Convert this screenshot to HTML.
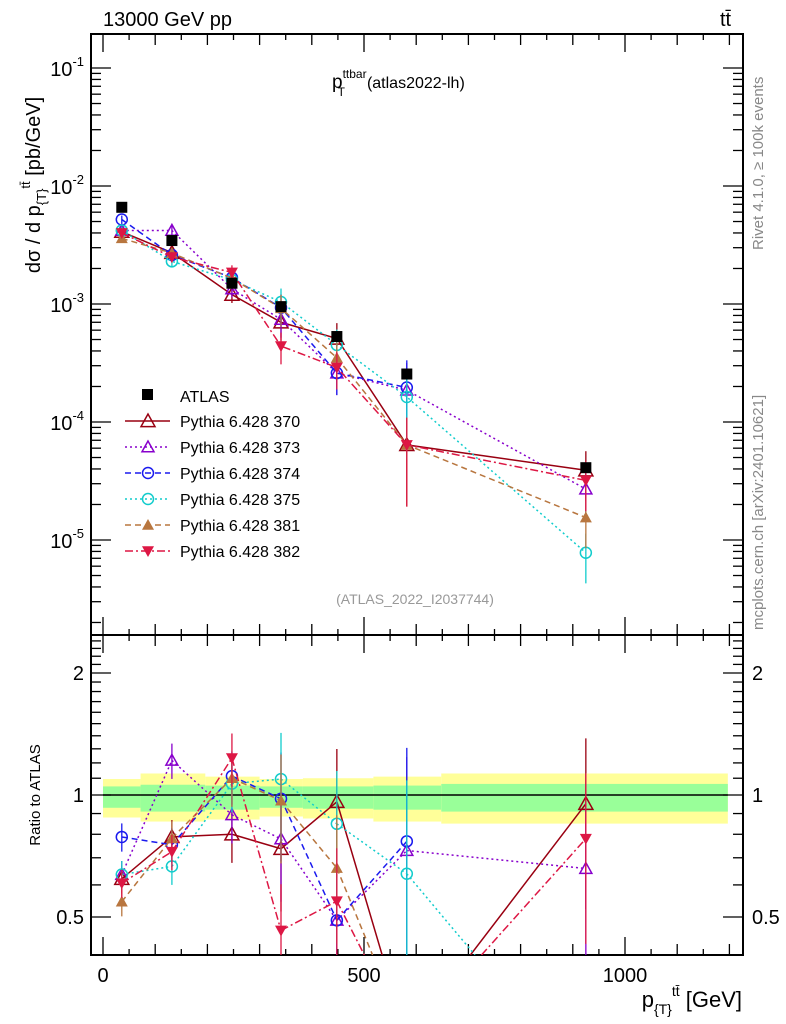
<!DOCTYPE html>
<html><head><meta charset="utf-8"><style>
html,body{margin:0;padding:0;background:#fff;width:786px;height:1024px;overflow:hidden;}
svg{display:block;font-family:"Liberation Sans",sans-serif;}
</style></head><body>
<svg id="plot" width="786" height="1024" viewBox="0 0 786 1024" xmlns="http://www.w3.org/2000/svg" overflow="hidden">
<text x="103" y="26" font-size="20">13000 GeV pp</text>
<text x="720" y="26" font-size="20">tt̄</text>
<text x="332" y="88" font-size="19">p<tspan font-size="12" dy="-10">ttbar</tspan><tspan font-size="12" dx="-29" dy="18">T</tspan><tspan font-size="16" dx="22" dy="-8">(atlas2022-lh)</tspan></text>
<text transform="translate(40,185) rotate(-90)" text-anchor="middle" font-size="20">dσ / d p<tspan font-size="13" dy="6">{T}</tspan><tspan font-size="13" dy="-16">tt̄</tspan><tspan dy="10"> [pb/GeV]</tspan></text>
<text transform="translate(763,250) rotate(-90)" font-size="15" fill="#888">Rivet 4.1.0, ≥ 100k events</text>
<text transform="translate(763,630) rotate(-90)" font-size="15" fill="#888">mcplots.cern.ch [arXiv:2401.10621]</text>
<text x="415" y="604" font-size="14" fill="#999" text-anchor="middle">(ATLAS_2022_I2037744)</text>
<text transform="translate(40,795) rotate(-90)" text-anchor="middle" font-size="15">Ratio to ATLAS</text>
<text x="742" y="1007" text-anchor="end" font-size="22">p<tspan font-size="14" dy="7">{T}</tspan><tspan font-size="14" dy="-18">tt̄</tspan><tspan dy="11"> [GeV]</tspan></text>
<g id="g"></g>
</svg>
<script>
const xVals=[36,132,247,341,448,582,925];
const binEdges=[0,72,196,300,383,518,648,1197];
const bandYellowHi=[1.095,1.13,1.11,1.095,1.10,1.11,1.13];
const bandYellowLo=[0.88,0.86,0.87,0.885,0.875,0.86,0.85];
const bandGreenHi=[1.05,1.06,1.055,1.05,1.05,1.055,1.065];
const bandGreenLo=[0.93,0.91,0.92,0.93,0.925,0.92,0.91];
const atlas=[6.6e-3,3.45e-3,1.5e-3,9.5e-4,5.3e-4,2.55e-4,4.1e-5];
const s370=[4.1e-3,2.72e-3,1.2e-3,7.0e-4,5.1e-4,6.4e-5,3.9e-5];
const s373=[4.2e-3,4.2e-3,1.34e-3,7.4e-4,2.6e-4,1.86e-4,2.7e-5];
const s374=[5.2e-3,2.6e-3,1.67e-3,9.3e-4,2.6e-4,1.96e-4,null];
const s375=[4.2e-3,2.3e-3,1.6e-3,1.04e-3,4.5e-4,1.63e-4,7.8e-6];
const s381=[3.6e-3,2.7e-3,1.65e-3,9.2e-4,3.5e-4,6.4e-5,1.55e-5];
const s382=[4.0e-3,2.5e-3,1.85e-3,4.4e-4,2.9e-4,6.4e-5,3.2e-5];
const relErr=[0.08,0.1,0.15,0.3,0.35,0.7,0.45];
const seriesNames=["Pythia 6.428 370","Pythia 6.428 373","Pythia 6.428 374","Pythia 6.428 375","Pythia 6.428 381","Pythia 6.428 382"];
const xTicksMajor=[0,500,1000];
const yDecades=[-1,-2,-3,-4,-5];
const rTicks=[2,1,0.5];

const NS="http://www.w3.org/2000/svg";
const g=document.getElementById('g');
const L=91,R=743,T=34,M=635,B=955;
const xs=v=>103+v*0.522;
const ym=v=>68+(-1-Math.log10(v))*118;
const yr=v=>795-Math.log2(v)*122;
const clampM=y=>Math.min(Math.max(y,T),M);
const clampR=y=>Math.min(Math.max(y,M),B);
function mk(tag,at,parent){const e=document.createElementNS(NS,tag);for(const k in at)e.setAttribute(k,at[k]);(parent||g).appendChild(e);return e;}
// clip a segment to y range [y0,y1]
function clipSeg(p,q,y0,y1){
 let [x1,ya]=p,[x2,yb]=q;
 const interp=(yy)=>x1+(x2-x1)*(yy-ya)/(yb-ya);
 if((ya<y0&&yb<y0)||(ya>y1&&yb>y1))return null;
 let a=[x1,ya],b=[x2,yb];
 if(ya<y0)a=[interp(y0),y0];if(ya>y1)a=[interp(y1),y1];
 if(yb<y0)b=[interp(y0),y0];if(yb>y1)b=[interp(y1),y1];
 return [a,b];
}

const bands=mk('g',{});


for(let i=0;i<binEdges.length-1;i++){
 const x1=xs(binEdges[i]),x2=xs(binEdges[i+1]);
 const ry=mk('rect',{x:x1,y:yr(bandYellowHi[i]),width:x2-x1,height:yr(bandYellowLo[i])-yr(bandYellowHi[i]),fill:'#ffff99'},bands);
 
 
 const rg=mk('rect',{x:x1,y:yr(bandGreenHi[i]),width:x2-x1,height:yr(bandGreenLo[i])-yr(bandGreenHi[i]),fill:'#99ff99'},bands);
 
 
}
const one=mk('line',{x1:xs(0),x2:xs(1197),y1:yr(1),y2:yr(1),stroke:'#000','stroke-width':1.5});



const f1=mk('rect',{x:L,y:T,width:R-L,height:M-T,fill:'none',stroke:'#000','stroke-width':2});


const f2=mk('rect',{x:L,y:M,width:R-L,height:B-M,fill:'none',stroke:'#000','stroke-width':2});



for(let v=0;v<=1200;v+=50){
 const x=xs(v);
 const ll=(v%100===0)?(v%500===0?18:11):6;
 [[T,1],[M,1],[M,-1],[B,-1]].forEach(([y,d])=>mk('line',{x1:x,x2:x,y1:y,y2:y+d*ll,stroke:'#000','stroke-width':1.3}));
}
xTicksMajor.forEach(v=>{const t=mk('text',{x:xs(v),y:982,'font-size':20,'text-anchor':'middle'});t.textContent=v;
 
 });

for(let d=-6;d<=-1;d++){for(let m=1;m<10;m++){const v=m*Math.pow(10,d);const y=ym(v);if(y<T||y>M)continue;
 const ll=m===1?20:10;
 mk('line',{x1:L,x2:L+ll,y1:y,y2:y,stroke:'#000','stroke-width':1.3});
 mk('line',{x1:R,x2:R-ll,y1:y,y2:y,stroke:'#000','stroke-width':1.3});}}
yDecades.forEach(d=>{const t=mk('text',{x:84,y:ym(Math.pow(10,d))+8,'font-size':20,'text-anchor':'end'});
 t.innerHTML='10<tspan font-size="13" dy="-10">'+d+'</tspan>';
 
 });

for(let v=0.4;v<=2.5;v+=0.1){const y=yr(v);if(y<M||y>B)continue;
 const maj=Math.abs(v-1)<1e-6||Math.abs(v-2)<1e-6||Math.abs(v-0.5)<1e-6;const ll=maj?20:10;
 mk('line',{x1:L,x2:L+ll,y1:y,y2:y,stroke:'#000','stroke-width':1.3});
 mk('line',{x1:R,x2:R-ll,y1:y,y2:y,stroke:'#000','stroke-width':1.3});}
rTicks.forEach(v=>{
 const t=mk('text',{x:84,y:yr(v)+7,'font-size':20,'text-anchor':'end'});t.textContent=v;
 
 
 const t2=mk('text',{x:752,y:yr(v)+7,'font-size':20});t2.textContent=v;
 
 });

function marker(type,x,y,color,size,parent){
 const s=size;
 if(type==='square')return mk('rect',{x:x-s,y:y-s,width:2*s,height:2*s,fill:'#000'},parent);
 if(type==='circle')return mk('circle',{cx:x,cy:y,r:s,fill:'none',stroke:color,'stroke-width':1.5},parent);
 if(type==='tri')return mk('polygon',{points:`${x},${y-s} ${x-s},${y+s*0.8} ${x+s},${y+s*0.8}`,fill:'none',stroke:color,'stroke-width':1.5},parent);
 if(type==='ftri')return mk('polygon',{points:`${x},${y-s} ${x-s},${y+s*0.8} ${x+s},${y+s*0.8}`,fill:color},parent);
 if(type==='dtri')return mk('polygon',{points:`${x},${y+s} ${x-s},${y-s*0.8} ${x+s},${y-s*0.8}`,fill:color},parent);
}
const defs=[
 {d:s370,c:'#990011',m:'tri',sz:7,dash:'',name:'series-370'},
 {d:s373,c:'#8800cc',m:'tri',sz:6,dash:'2,3',name:'series-373'},
 {d:s374,c:'#1a1aee',m:'circle',sz:5.5,dash:'6,4',name:'series-374'},
 {d:s375,c:'#11cccc',m:'circle',sz:5.5,dash:'2,3',name:'series-375'},
 {d:s381,c:'#b8763f',m:'ftri',sz:6,dash:'6,4',name:'series-381'},
 {d:s382,c:'#dd1744',m:'dtri',sz:6,dash:'8,3,2,3',name:'series-382'}];

const clipM=mk('clipPath',{id:'cm'});mk('rect',{x:L,y:T,width:R-L,height:M-T},clipM);
const clipR=mk('clipPath',{id:'cr'});mk('rect',{x:L,y:M,width:R-L,height:B-M},clipR);

defs.forEach(s=>{
 const gm=mk('g',{'clip-path':'url(#cm)'});
 
 
 const gr=mk('g',{'clip-path':'url(#cr)'});
 
 
 let pm=[],pr=[];
 s.d.forEach((v,i)=>{if(v==null)return;pm.push([xs(xVals[i]),ym(v)]);pr.push([xs(xVals[i]),yr(v/atlas[i])]);});
 const st={fill:'none',stroke:s.c,'stroke-width':1.5};if(s.dash)st['stroke-dasharray']=s.dash;
 mk('polyline',Object.assign({points:pm.map(p=>p.join(',')).join(' ')},st),gm);
 let dstr='';
 for(let k=0;k<pr.length-1;k++){const c=clipSeg(pr[k],pr[k+1],M,B);if(c)dstr+=`M${c[0][0]},${c[0][1]}L${c[1][0]},${c[1][1]}`;}
 if(dstr)mk('path',Object.assign({d:dstr},st),gr);
 s.d.forEach((v,i)=>{if(v==null)return;const x=xs(xVals[i]);const e=relErr[i];
  const ratio=v/atlas[i];
  mk('line',{x1:x,x2:x,y1:clampM(ym(v*(1+e))),y2:clampM(ym(Math.max(v*(1-e),1e-7))),stroke:s.c,'stroke-width':1.3},gm);
  const ry=yr(ratio);
  if(ry<M||ry>B)return;
  mk('line',{x1:x,x2:x,y1:clampR(yr(ratio*(1+e))),y2:clampR(yr(Math.max(ratio*(1-e),0.05))),stroke:s.c,'stroke-width':1.3},gr);
  const mm=marker(s.m,x,ym(v),s.c,s.sz,gm);
  
  
  const mr=marker(s.m,x,ry,s.c,s.sz,gr);
  
  
 });
 // main markers for points whose ratio is off-panel
 s.d.forEach((v,i)=>{if(v==null)return;const ry=yr(v/atlas[i]);if(ry>=M&&ry<=B)return;
  const mm=marker(s.m,xs(xVals[i]),ym(v),s.c,s.sz,gm);
  
  });
});
const ga=mk('g',{});


atlas.forEach((v,i)=>{const x=xs(xVals[i]);
 const p=marker('square',x,ym(v),'#000',5.5,ga);
 
 });

const lg=mk('g',{});


const le0=mk('rect',{x:142,y:389,width:11,height:11,fill:'#000'},lg);


const lt0=mk('text',{x:180,y:402,'font-size':16},lg);lt0.textContent='ATLAS';


defs.forEach((s,i)=>{const y=421+i*26;
 const st={stroke:s.c,'stroke-width':1.5};if(s.dash)st['stroke-dasharray']=s.dash;
 mk('line',Object.assign({x1:125,x2:170,y1:y,y2:y},st),lg);
 const m=marker(s.m,148,y,s.c,s.sz,lg);
 
 
 const t=mk('text',{x:180,y:y+6,'font-size':16},lg);t.textContent=seriesNames[i];
 
 });
</script>
</body></html>
